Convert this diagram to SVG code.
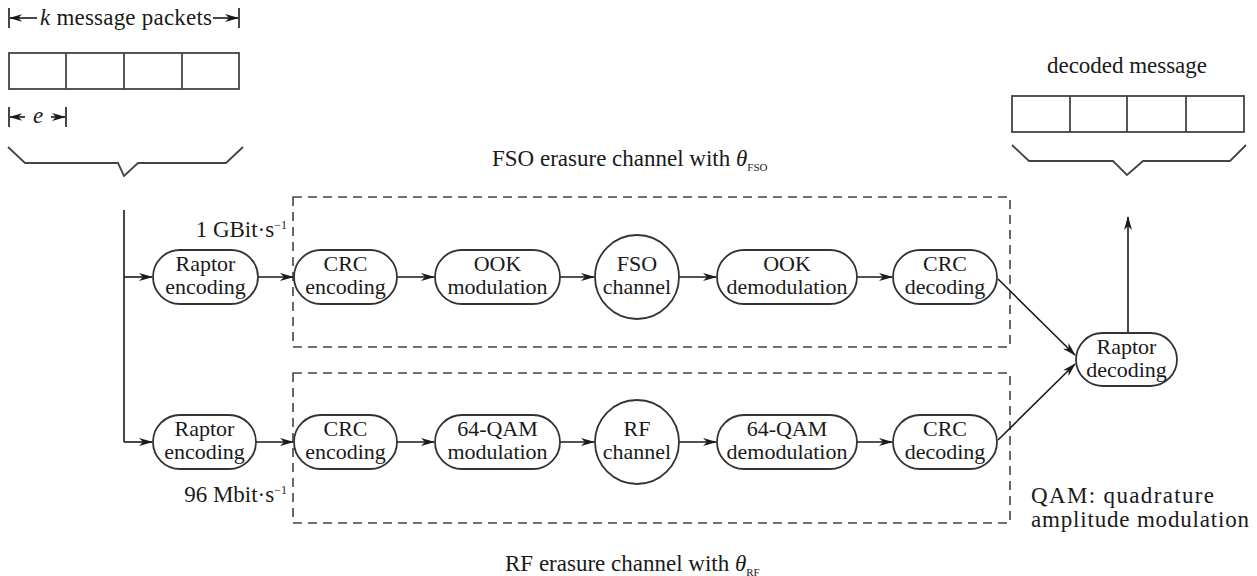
<svg xmlns="http://www.w3.org/2000/svg" width="1257" height="576" viewBox="0 0 1257 576">
<defs>
<marker id="ah" viewBox="0 0 14 8" refX="13" refY="4" markerWidth="14" markerHeight="8" markerUnits="userSpaceOnUse" orient="auto">
<path d="M0,0 L14,4 L0,8 L4,4 z" fill="#1a1a1a"/>
</marker>
<marker id="ahs" viewBox="0 0 14 8" refX="13" refY="4" markerWidth="13" markerHeight="8" markerUnits="userSpaceOnUse" orient="auto-start-reverse">
<path d="M0,0 L14,4 L0,8 L4,4 z" fill="#1a1a1a"/>
</marker>
</defs>
<style>
text{font-family:"Liberation Serif","Times New Roman",serif;font-size:22px;fill:#1a1a1a}
.lbl{font-size:23px}
.c{text-anchor:middle}
.node{fill:#fff;stroke:#333;stroke-width:1.8}
.dash{fill:none;stroke:#444;stroke-width:1.6;stroke-dasharray:9,6}
.ln{fill:none;stroke:#1a1a1a;stroke-width:1.6}
.pk{fill:#fff;stroke:#444;stroke-width:1.8}
.br{fill:none;stroke:#444;stroke-width:1.8}
.sub{font-size:11px}
.sup{font-size:12px}
</style>
<rect width="1257" height="576" fill="#fff"/>

<g id="input-message">
<line class="ln" x1="9" y1="8" x2="9" y2="28"/>
<line class="ln" x1="239" y1="8" x2="239" y2="28"/>
<line class="ln" x1="10" y1="18" x2="37" y2="18" marker-start="url(#ahs)"/>
<line class="ln" x1="213" y1="18" x2="238" y2="18" marker-end="url(#ah)"/>
<text class="lbl" x="40" y="25" textLength="172" lengthAdjust="spacing"><tspan font-style="italic">k</tspan> message packets</text>
<rect class="pk" x="9" y="53" width="230" height="36"/>
<line class="pk" x1="66" y1="53" x2="66" y2="89"/>
<line class="pk" x1="124" y1="53" x2="124" y2="89"/>
<line class="pk" x1="182" y1="53" x2="182" y2="89"/>
<line class="ln" x1="9" y1="107" x2="9" y2="127"/>
<line class="ln" x1="66" y1="107" x2="66" y2="127"/>
<line class="ln" x1="10" y1="117" x2="25" y2="117" marker-start="url(#ahs)"/>
<line class="ln" x1="51" y1="117" x2="65" y2="117" marker-end="url(#ah)"/>
<text class="c lbl" x="38" y="123" font-style="italic">e</text>
<polyline class="br" points="8,147 25,163 118,163 124,176 138,163 226,163 243,147"/>
</g>

<g id="output-message">
<text class="lbl" x="1047" y="73" textLength="160" lengthAdjust="spacing">decoded message</text>
<rect class="pk" x="1012" y="96" width="232" height="36"/>
<line class="pk" x1="1070" y1="96" x2="1070" y2="132"/>
<line class="pk" x1="1127" y1="96" x2="1127" y2="132"/>
<line class="pk" x1="1186" y1="96" x2="1186" y2="132"/>
<polyline class="br" points="1012,145 1029,161 1113,161 1127,175 1143,161 1230,161 1246,145"/>
</g>

<g id="fso-channel-box">
<rect class="dash" x="293" y="197" width="717" height="150"/>
<text class="lbl" x="492" y="166">FSO erasure channel with <tspan font-style="italic">θ</tspan><tspan class="sub" dy="5">FSO</tspan></text>
</g>
<g id="rf-channel-box">
<rect class="dash" x="293" y="373" width="717" height="150"/>
<text class="lbl" x="505" y="571">RF erasure channel with <tspan font-style="italic">θ</tspan><tspan class="sub" dy="5">RF</tspan></text>
</g>

<g id="rate-labels">
<text class="lbl" x="287" y="237" text-anchor="end">1 GBit·s<tspan class="sup" dy="-8">−1</tspan></text>
<text class="lbl" x="287" y="502" text-anchor="end">96 Mbit·s<tspan class="sup" dy="-8">−1</tspan></text>
</g>

<g id="qam-note">
<text class="lbl" x="1031" y="503" textLength="183" lengthAdjust="spacing">QAM: quadrature</text>
<text class="lbl" x="1031" y="527" textLength="218" lengthAdjust="spacing">amplitude modulation</text>
</g>

<g id="connectors">
<polyline class="ln" points="124,210 124,442"/>
<line class="ln" x1="124" y1="277" x2="152" y2="277" marker-end="url(#ah)"/>
<line class="ln" x1="124" y1="442" x2="152" y2="442" marker-end="url(#ah)"/>
<line class="ln" x1="258" y1="277" x2="293" y2="277" marker-end="url(#ah)"/>
<line class="ln" x1="397" y1="277" x2="434" y2="277" marker-end="url(#ah)"/>
<line class="ln" x1="560" y1="277" x2="594" y2="277" marker-end="url(#ah)"/>
<line class="ln" x1="679" y1="277" x2="716" y2="277" marker-end="url(#ah)"/>
<line class="ln" x1="857" y1="277" x2="892" y2="277" marker-end="url(#ah)"/>
<line class="ln" x1="256" y1="442" x2="293" y2="442" marker-end="url(#ah)"/>
<line class="ln" x1="397" y1="442" x2="434" y2="442" marker-end="url(#ah)"/>
<line class="ln" x1="560" y1="442" x2="594" y2="442" marker-end="url(#ah)"/>
<line class="ln" x1="679" y1="442" x2="716" y2="442" marker-end="url(#ah)"/>
<line class="ln" x1="857" y1="442" x2="892" y2="442" marker-end="url(#ah)"/>
<line class="ln" x1="998" y1="279" x2="1075" y2="355" marker-end="url(#ah)"/>
<line class="ln" x1="998" y1="440" x2="1075" y2="364" marker-end="url(#ah)"/>
<line class="ln" x1="1128" y1="333" x2="1128" y2="217" marker-end="url(#ah)"/>
</g>

<g id="raptor-enc-1">
<rect class="node" x="153" y="250" width="105" height="54" rx="27"/>
<text class="c" x="205.5" y="271">Raptor</text><text class="c" x="205.5" y="294">encoding</text>
</g>
<g id="crc-enc-1">
<rect class="node" x="294" y="250" width="103" height="54" rx="27"/>
<text class="c" x="345.5" y="271">CRC</text><text class="c" x="345.5" y="294">encoding</text>
</g>
<g id="ook-mod">
<rect class="node" x="435" y="250" width="125" height="54" rx="27"/>
<text class="c" x="497.5" y="271">OOK</text><text class="c" x="497.5" y="294">modulation</text>
</g>
<g id="fso-channel">
<circle class="node" cx="637" cy="277" r="42"/>
<text class="c" x="637" y="271">FSO</text><text class="c" x="637" y="294">channel</text>
</g>
<g id="ook-demod">
<rect class="node" x="717" y="250" width="140" height="54" rx="27"/>
<text class="c" x="787" y="271">OOK</text><text class="c" x="787" y="294">demodulation</text>
</g>
<g id="crc-dec-1">
<rect class="node" x="893" y="250" width="104" height="54" rx="27"/>
<text class="c" x="945" y="271">CRC</text><text class="c" x="945" y="294">decoding</text>
</g>

<g id="raptor-enc-2">
<rect class="node" x="153" y="415" width="103" height="54" rx="27"/>
<text class="c" x="204.5" y="436">Raptor</text><text class="c" x="204.5" y="459">encoding</text>
</g>
<g id="crc-enc-2">
<rect class="node" x="294" y="415" width="103" height="54" rx="27"/>
<text class="c" x="345.5" y="436">CRC</text><text class="c" x="345.5" y="459">encoding</text>
</g>
<g id="qam-mod">
<rect class="node" x="435" y="415" width="125" height="54" rx="27"/>
<text class="c" x="497.5" y="436">64-QAM</text><text class="c" x="497.5" y="459">modulation</text>
</g>
<g id="rf-channel">
<circle class="node" cx="637" cy="442" r="42"/>
<text class="c" x="637" y="436">RF</text><text class="c" x="637" y="459">channel</text>
</g>
<g id="qam-demod">
<rect class="node" x="717" y="415" width="140" height="54" rx="27"/>
<text class="c" x="787" y="436">64-QAM</text><text class="c" x="787" y="459">demodulation</text>
</g>
<g id="crc-dec-2">
<rect class="node" x="893" y="415" width="104" height="54" rx="27"/>
<text class="c" x="945" y="436">CRC</text><text class="c" x="945" y="459">decoding</text>
</g>

<g id="raptor-dec">
<rect class="node" x="1076" y="333" width="101" height="53" rx="26.5"/>
<text class="c" x="1126.5" y="353.5">Raptor</text><text class="c" x="1126.5" y="376.5">decoding</text>
</g>
</svg>
